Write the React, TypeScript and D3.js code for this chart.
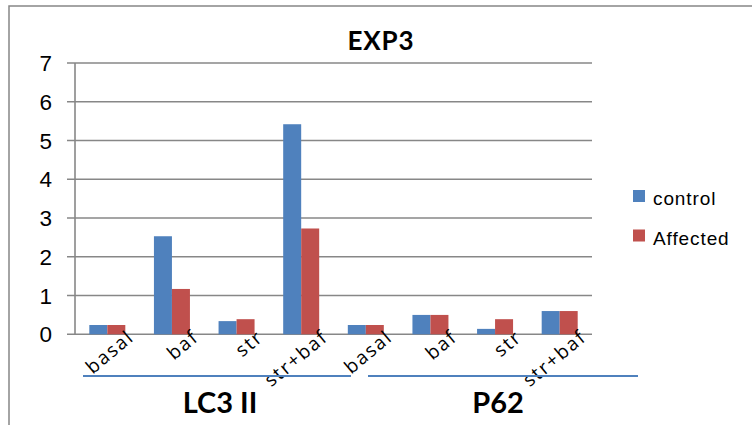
import React from "react";
import * as d3 from "d3";

const categories = ["basal", "baf", "str", "str+baf", "basal", "baf", "str", "str+baf"];
const controlValues = [0.24, 2.53, 0.34, 5.42, 0.24, 0.5, 0.14, 0.6];
const affectedValues = [0.24, 1.17, 0.39, 2.73, 0.24, 0.5, 0.39, 0.6];
const seriesNames = ["control", "Affected"];
const seriesColors = ["#4F81BD", "#C0504D"];
const groups = ["LC3 II", "P62"];
const yTicks = [0, 1, 2, 3, 4, 5, 6, 7];

const W = 752, H = 425;
const plotL = 75, plotR = 592, plotT = 63, plotB = 334.3;

export default function App() {
  const x = d3.scaleBand<number>().domain(d3.range(categories.length)).range([plotL, plotR]).paddingInner(0).paddingOuter(0);
  const y = d3.scaleLinear().domain([0, 7]).range([plotB, plotT]);
  const bw = 18;
  const series = [controlValues, affectedValues];
  const bandW = x.bandwidth();

  return (
    <svg width={W} height={H} style={{ position: "absolute", left: 0, top: 0 }} fontFamily="Liberation Sans, Arial, sans-serif">
      <rect x={0} y={0} width={W} height={H} fill="#fff" />
      <rect x={9} y={6} width={W} height={H} fill="none" stroke="#878787" strokeWidth={1.5} />
      <text x={381} y={50} textAnchor="middle" fontFamily="Lato, Open Sans, sans-serif" fontWeight="bold" fontSize={26} letterSpacing={0.8}>EXP3</text>
      {yTicks.map((t) => (
        <g key={t}>
          <line x1={67} x2={plotR} y1={y(t)} y2={y(t)} stroke="#878787" strokeWidth={1.6} />
          <text x={52} y={y(t) + 8} textAnchor="end" fontSize={22.5}>{t}</text>
        </g>
      ))}
      <line x1={plotL} x2={plotL} y1={plotT} y2={plotB} stroke="#878787" strokeWidth={1.6} />
      {series.map((vals, si) =>
        vals.map((v, i) => {
          const cx = (x(i) as number) + bandW / 2;
          const bx = cx - bw + si * bw;
          return <rect key={si + "-" + i} x={bx} y={y(v)} width={bw} height={plotB - y(v)} fill={seriesColors[si]} />;
        })
      )}
      {categories.map((c, i) => {
        const cx = (x(i) as number) + bandW / 2;
        const ax = cx + 28, ay = 339;
        return (
          <text key={i} x={ax} y={ay} textAnchor="end" fontFamily="Open Sans, sans-serif" fontSize={19} letterSpacing={1.8} transform={`rotate(-40 ${ax} ${ay})`}>{c}</text>
        );
      })}
      {groups.map((g, gi) => {
        const start = gi === 0 ? 83 : 368;
        const end = gi === 0 ? 351 : 638;
        const cx = gi === 0 ? 220 : 498;
        return (
          <g key={g}>
            <line x1={start} x2={end} y1={376} y2={376} stroke="#4F81BD" strokeWidth={1.8} />
            <text x={cx} y={413} textAnchor="middle" fontFamily="Lato, Open Sans, sans-serif" fontWeight="bold" fontSize={29}>{g}</text>
          </g>
        );
      })}
      {seriesNames.map((n, i) => (
        <g key={n}>
          <rect x={633} y={190 + i * 39.5} width={12} height={12} fill={seriesColors[i]} />
          <text x={653} y={205 + i * 39.5} fontSize={19} letterSpacing={0.9}>{n}</text>
        </g>
      ))}
    </svg>
  );
}
